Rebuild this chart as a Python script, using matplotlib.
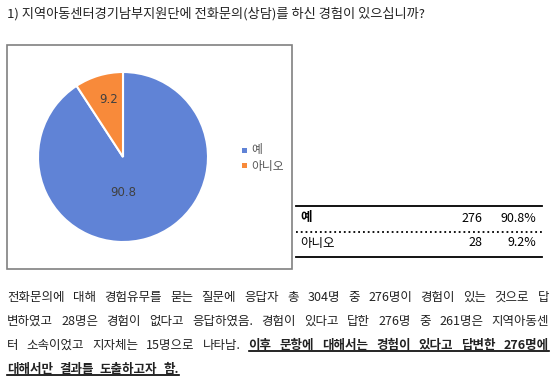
import matplotlib
matplotlib.use("Agg")
import matplotlib.pyplot as plt
from matplotlib.patches import Rectangle
from matplotlib.lines import Line2D

plt.rcParams['font.family'] = ['Noto Sans CJK KR', 'DejaVu Sans']

# data
categories = ['예', '아니오']
percents = [90.8, 9.2]
counts = [276, 28]
colors = ['#6083d6', '#f88a3a']

title = '1) 지역아동센터경기남부지원단에 전화문의(상담)를 하신 경험이 있으십니까?'
para_lines = [
    [('전화문의에 대해 경험유무를 묻는 질문에 응답자 총 304명 중 276명이 경험이 있는 것으로 답', False)],
    [('변하였고 28명은 경험이 없다고 응답하였음. 경험이 있다고 답한 276명 중 261명은 지역아동센', False)],
    [('터 소속이었고 지자체는 15명으로 나타남.', False),
     ('이후 문항에 대해서는 경험이 있다고 답변한 276명에', True)],
    [('대해서만 결과를 도출하고자 함.', True)],
]

W, H = 556, 384
fig = plt.figure(figsize=(W / 100, H / 100), dpi=100)


def fx(x):
    return x / W


def fy(y):
    return 1 - y / H


fig.text(fx(7), fy(13.5), title, fontsize=9.5, va='center', ha='left', color='#222222')

# chart box
fig.add_artist(Rectangle((fx(7), fy(269)), fx(292) - fx(7), fy(45) - fy(269),
                         transform=fig.transFigure, fill=False, edgecolor='#808080', lw=1.2))

# pie
cx, cy, r = 123, 157, 85
ax = fig.add_axes([fx(cx - r), fy(cy + r), 2 * r / W, 2 * r / H])
wedges, texts = ax.pie(percents, colors=colors, startangle=90, counterclock=False,
                       wedgeprops=dict(edgecolor='white', linewidth=1.5))
ax.set_xlim(-1, 1)
ax.set_ylim(-1, 1)
ax.set_aspect('equal')
ax.axis('off')
label_pos = [(0.0, -0.42), (-0.17, 0.68)]
for p, (lx, ly) in zip(percents, label_pos):
    ax.text(lx, ly, f'{p}', ha='center', va='center', fontsize=8.5, color='#404040',
            family=['DejaVu Sans'])

# legend
for i, (cat, col) in enumerate(zip(categories, colors)):
    y = 150 + i * 16
    fig.add_artist(Rectangle((fx(242), fy(y + 2.5)), 5 / W, 5 / H,
                             transform=fig.transFigure, facecolor=col, edgecolor='none'))
    fig.text(fx(251), fy(y), cat, fontsize=8.5, va='center', ha='left', color='#555555')

# table
x0, x1 = 296, 542
for y, ls in [(206, '-'), (232, ':'), (257, '-')]:
    fig.add_artist(Line2D([fx(x0), fx(x1)], [fy(y), fy(y)], transform=fig.transFigure,
                          color='black', lw=1.3, ls=ls))
for i, (cat, n, p) in enumerate(zip(categories, counts, percents)):
    y = 218 + i * 25
    bold = 'bold' if i == 0 else 'normal'
    fig.text(fx(300), fy(y), cat, fontsize=9, va='center', ha='left', weight=bold)
    fig.text(fx(482), fy(y), f'{n}', fontsize=9, va='center', ha='right')
    fig.text(fx(536), fy(y), f'{p}%', fontsize=9, va='center', ha='right')

# justified paragraph
renderer = fig.canvas.get_renderer()
left, right = 7, 549
line_y = [297, 321, 345, 369]
for li, (segs, y) in enumerate(zip(para_lines, line_y)):
    words = []
    for s, b in segs:
        for w in s.split(' '):
            words.append((w, b))
    objs = []
    widths = []
    for w, b in words:
        t = fig.text(0, fy(y), w, fontsize=9, va='center', ha='left',
                     weight='bold' if b else 'normal', color='#222222')
        objs.append(t)
        widths.append(t.get_window_extent(renderer).width)
    if li < len(para_lines) - 1:
        gap = (right - left - sum(widths)) / (len(words) - 1)
    else:
        gap = 6
    x = left
    ul_start = None
    ul_end = None
    for (w, b), t, wd in zip(words, objs, widths):
        t.set_x(fx(x))
        if b:
            if ul_start is None:
                ul_start = x
            ul_end = x + wd
        x += wd + gap
    if ul_start is not None:
        fig.add_artist(Line2D([fx(ul_start), fx(ul_end)], [fy(y + 6), fy(y + 6)],
                              transform=fig.transFigure, color='black', lw=1.2))

fig.savefig('out.png', dpi=100)
